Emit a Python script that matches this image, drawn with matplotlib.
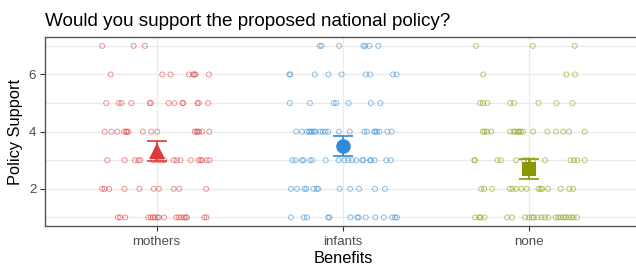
import matplotlib
matplotlib.use("Agg")
import matplotlib.pyplot as plt
from matplotlib.ticker import FixedLocator

plt.rcParams["font.family"] = ["Liberation Sans", "DejaVu Sans"]

# categories, colours and summary values
groups = ["mothers", "infants", "none"]
colors = ["#DE3A3A", "#2E8BD6", "#889A00"]
markers = ["^", "o", "s"]
marker_sizes = [11.5, 10.5, 10.5]
means = [3.33, 3.51, 2.69]
ci = [0.35, 0.345, 0.345]

# jittered raw responses: response level -> horizontal jitter offsets
mothers_pts = {
    7: [-0.291, -0.123, -0.062],
    6: [-0.246, 0.031, 0.075, 0.174, 0.197, 0.203, 0.210, 0.281],
    5: [-0.270, -0.203, -0.188, -0.135, -0.037, -0.030, 0.065, 0.096,
        0.140, 0.143, 0.219, 0.227, 0.277],
    4: [-0.278, -0.242, -0.210, -0.174, -0.162, -0.160, -0.151, -0.073,
        -0.028, 0.004, 0.206, 0.215, 0.220, 0.228, 0.245, 0.283],
    3: [-0.264, -0.171, -0.116, -0.097, -0.087, -0.017, 0.006, 0.025,
        0.042, 0.093, 0.108, 0.129, 0.184, 0.226, 0.236, 0.245, 0.270, 0.285],
    2: [-0.292, -0.279, -0.254, -0.172, -0.092, -0.015, 0.013, 0.092,
        0.122, 0.266],
    1: [-0.207, -0.195, -0.168, -0.045, -0.031, -0.019, -0.009, 0.006,
        0.013, 0.041, 0.106, 0.119, 0.132, 0.147, 0.156, 0.163, 0.257, 0.268],
}
infants_pts = {
    7: [-0.124, -0.114, -0.020, 0.110, 0.120, 0.142, 0.190],
    6: [-0.287, -0.282, -0.151, -0.077, -0.007, 0.123, 0.147, 0.269, 0.288],
    5: [-0.285, -0.177, -0.049, -0.035, 0.031, 0.150, 0.201],
    4: [-0.250, -0.220, -0.194, -0.181, -0.174, -0.164, -0.154, -0.147,
        -0.121, -0.108, -0.093, -0.078, -0.021, 0.037, 0.115, 0.129,
        0.168, 0.175, 0.183, 0.198, 0.239, 0.262],
    3: [-0.271, -0.255, -0.220, -0.212, -0.177, -0.164, -0.092, -0.023,
        0.009, 0.029, 0.049, 0.072, 0.104, 0.110, 0.146, 0.151, 0.171,
        0.233, 0.258],
    2: [-0.279, -0.246, -0.206, -0.196, -0.157, -0.140, -0.131, -0.017,
        0.039, 0.087, 0.172, 0.226],
    1: [-0.279, -0.209, -0.193, -0.079, -0.072, 0.041, 0.078, 0.085,
        0.123, 0.174, 0.220, 0.264, 0.280, 0.290],
}
none_pts = {
    7: [-0.286, 0.019, 0.245],
    6: [-0.247, 0.200, 0.246],
    5: [-0.264, -0.248, -0.225, -0.101, -0.081, 0.050, 0.146, 0.232],
    4: [-0.249, -0.239, -0.226, -0.204, -0.102, -0.084, -0.075, -0.062,
        -0.054, -0.045, -0.033, 0.021, 0.098, 0.144, 0.182, 0.214, 0.298],
    3: [-0.294, -0.292, -0.170, -0.152, -0.070, -0.028, -0.006, 0.020,
        0.085, 0.222, 0.240, 0.259, 0.298],
    2: [-0.258, -0.242, -0.199, -0.104, -0.090, -0.070, -0.042, -0.014,
        0.050, 0.061, 0.069, 0.101, 0.169, 0.216, 0.236],
    1: [-0.290, -0.269, -0.260, -0.240, -0.118, -0.092, -0.022, -0.001,
        0.014, 0.025, 0.045, 0.066, 0.085, 0.103, 0.141, 0.155, 0.169,
        0.184, 0.196, 0.211, 0.225, 0.238, 0.257],
}
raw = [mothers_pts, infants_pts, none_pts]

fig = plt.figure(figsize=(6.36, 2.65), dpi=100)
# panel runs slightly past the right edge, as in the original
ax = fig.add_axes([44.7 / 636, 39 / 265, 596.3 / 636, 188.7 / 265])

for i, (pts, col) in enumerate(zip(raw, colors)):
    xs, ys = [], []
    for level, offs in pts.items():
        for d in offs:
            xs.append(i + 1 + d)
            ys.append(level)
    ax.scatter(xs, ys, s=13, facecolors="none", edgecolors=col,
               linewidths=0.7, alpha=0.55, zorder=3)

for i in range(3):
    ax.errorbar(i + 1, means[i], yerr=ci[i], fmt="none", ecolor=colors[i],
                elinewidth=1.2, capsize=7, capthick=1.2, zorder=4)
    ax.plot(i + 1, means[i], marker=markers[i], ms=marker_sizes[i],
            color=colors[i], mew=0, zorder=5)

ax.set_xlim(0.4, 3.6)
ax.set_ylim(0.7, 7.3)
ax.set_xticks([1, 2, 3])
ax.set_xticklabels(groups)
ax.set_yticks([2, 4, 6])
ax.yaxis.set_minor_locator(FixedLocator([1, 3, 5, 7]))
ax.grid(True, which="both", color="#EBEBEB", lw=0.9, zorder=0)
ax.tick_params(which="minor", length=0)
ax.tick_params(which="major", length=3.5, width=0.8, color="#333333",
               labelsize=9.6, labelcolor="#4D4D4D", pad=2.5)
ax.tick_params(axis="x", pad=4)
for sp in ax.spines.values():
    sp.set_color("#555555")
    sp.set_linewidth(1.0)
ax.set_axisbelow(True)

ax.set_xlabel("Benefits", fontsize=11.8, labelpad=2)
ax.set_ylabel("Policy Support", fontsize=11.8, labelpad=4)
fig.text(44.7 / 636, 1 - 25.5 / 265, "Would you support the proposed national policy?",
         fontsize=13.6, ha="left", va="baseline")

fig.savefig("out.png", dpi=100)
